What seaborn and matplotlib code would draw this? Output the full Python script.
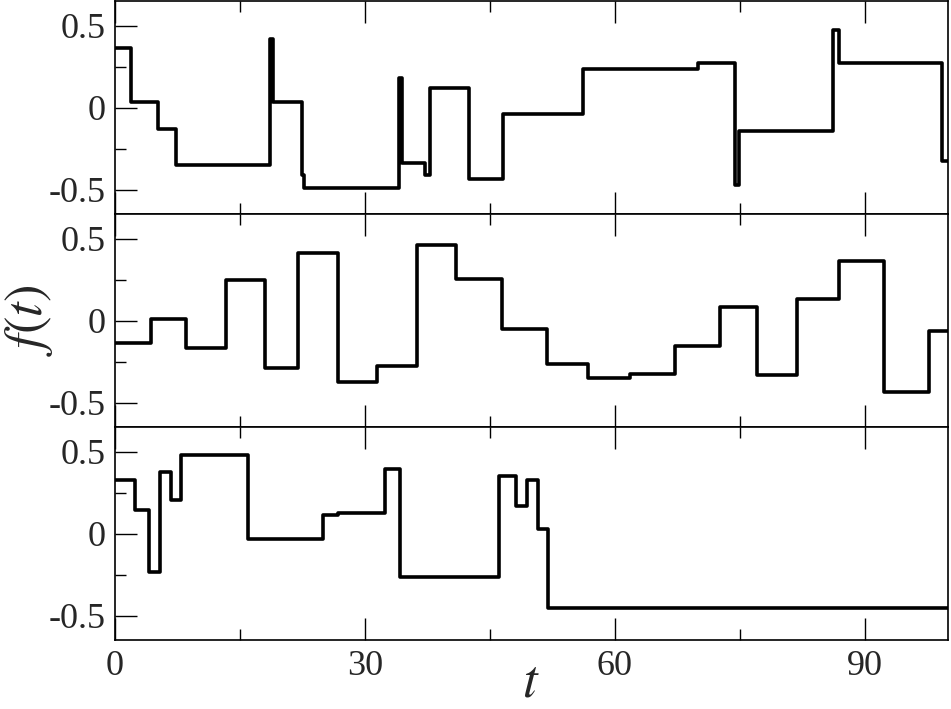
import matplotlib
matplotlib.use("Agg")
import matplotlib.pyplot as plt
from matplotlib.ticker import MultipleLocator, FuncFormatter
import numpy as np
import pandas as pd
import seaborn as sns

# step start times and levels
t_top = [0, 1.9, 5.2, 7.3, 18.6, 19.0, 22.4, 22.7, 34.1, 34.5, 37.2, 37.8,
         42.5, 46.6, 56.2, 70.0, 74.4, 74.9, 86.2, 86.9, 99.3, 100]
f_top = [0.364, 0.037, -0.126, -0.348, 0.419, 0.037, -0.41, -0.49, 0.185, -0.337, -0.41, 0.124,
         -0.435, -0.039, 0.236, 0.276, -0.471, -0.14, 0.474, 0.272, -0.323, -0.323]

t_mid = [0, 4.3, 8.5, 13.3, 18.0, 22.0, 26.7, 31.5, 36.2, 40.9, 46.4, 51.8,
         56.8, 61.8, 67.2, 72.6, 77.0, 81.8, 86.9, 92.3, 97.7, 100]
f_mid = [-0.138, 0.010, -0.167, 0.250, -0.285, 0.413, -0.372, -0.274, 0.463, 0.254, -0.051, -0.264,
         -0.352, -0.326, -0.152, 0.087, -0.331, 0.132, 0.366, -0.433, -0.065, -0.065]

t_bot = [0, 2.4, 4.1, 5.4, 6.7, 7.9, 15.9, 24.9, 26.7, 32.4, 34.2, 46.1,
         48.1, 49.4, 50.8, 52.0, 100]
f_bot = [0.326, 0.143, -0.231, 0.377, 0.208, 0.480, -0.031, 0.112, 0.129, 0.398, -0.265, 0.351,
         0.169, 0.331, 0.031, -0.455, -0.455]

series = [(t_top, f_top), (t_mid, f_mid), (t_bot, f_bot)]

sns.set_theme(style="ticks")
plt.rcParams['font.family'] = ['Liberation Serif', 'DejaVu Serif']
plt.rcParams['mathtext.fontset'] = 'stix'
plt.rcParams['axes.unicode_minus'] = False

fig, axes = plt.subplots(3, 1, figsize=(9.51, 7.09), dpi=100, sharex=True)
fig.subplots_adjust(left=0.121, right=0.997, top=0.998, bottom=0.097, hspace=0)

for ax, (t, f) in zip(axes, series):
    df = pd.DataFrame({'t': t, 'f': f})
    sns.lineplot(data=df, x='t', y='f', ax=ax, color='black', linewidth=2.6,
                 drawstyle='steps-post', sort=False, estimator=None)
    ax.set_xlim(0, 100)
    ax.set_ylim(-0.65, 0.65)
    ax.set_xlabel('')
    ax.set_ylabel('')
    ax.xaxis.set_major_locator(MultipleLocator(30))
    ax.xaxis.set_minor_locator(MultipleLocator(15))
    ax.yaxis.set_major_locator(MultipleLocator(0.5))
    ax.yaxis.set_minor_locator(MultipleLocator(0.25))
    ax.yaxis.set_major_formatter(FuncFormatter(lambda v, p: '%g' % round(v, 2)))
    ax.tick_params(axis='both', which='both', direction='in', color='black', width=1)
    ax.tick_params(axis='x', which='both', top=True, bottom=True)
    ax.tick_params(axis='y', which='both', left=True, right=False)
    ax.tick_params(which='major', length=16, labelsize=26, pad=7)
    ax.tick_params(which='minor', length=8)
    for s in ax.spines.values():
        s.set_color('black')
        s.set_linewidth(1.2)

fig.text(0.558, 0.002, '$t$', fontsize=38, ha='center', va='bottom')
fig.text(0.03, 0.549, '$f(t)$', fontsize=38, rotation=90, ha='center', va='center')

fig.savefig('out.png', dpi=100)
